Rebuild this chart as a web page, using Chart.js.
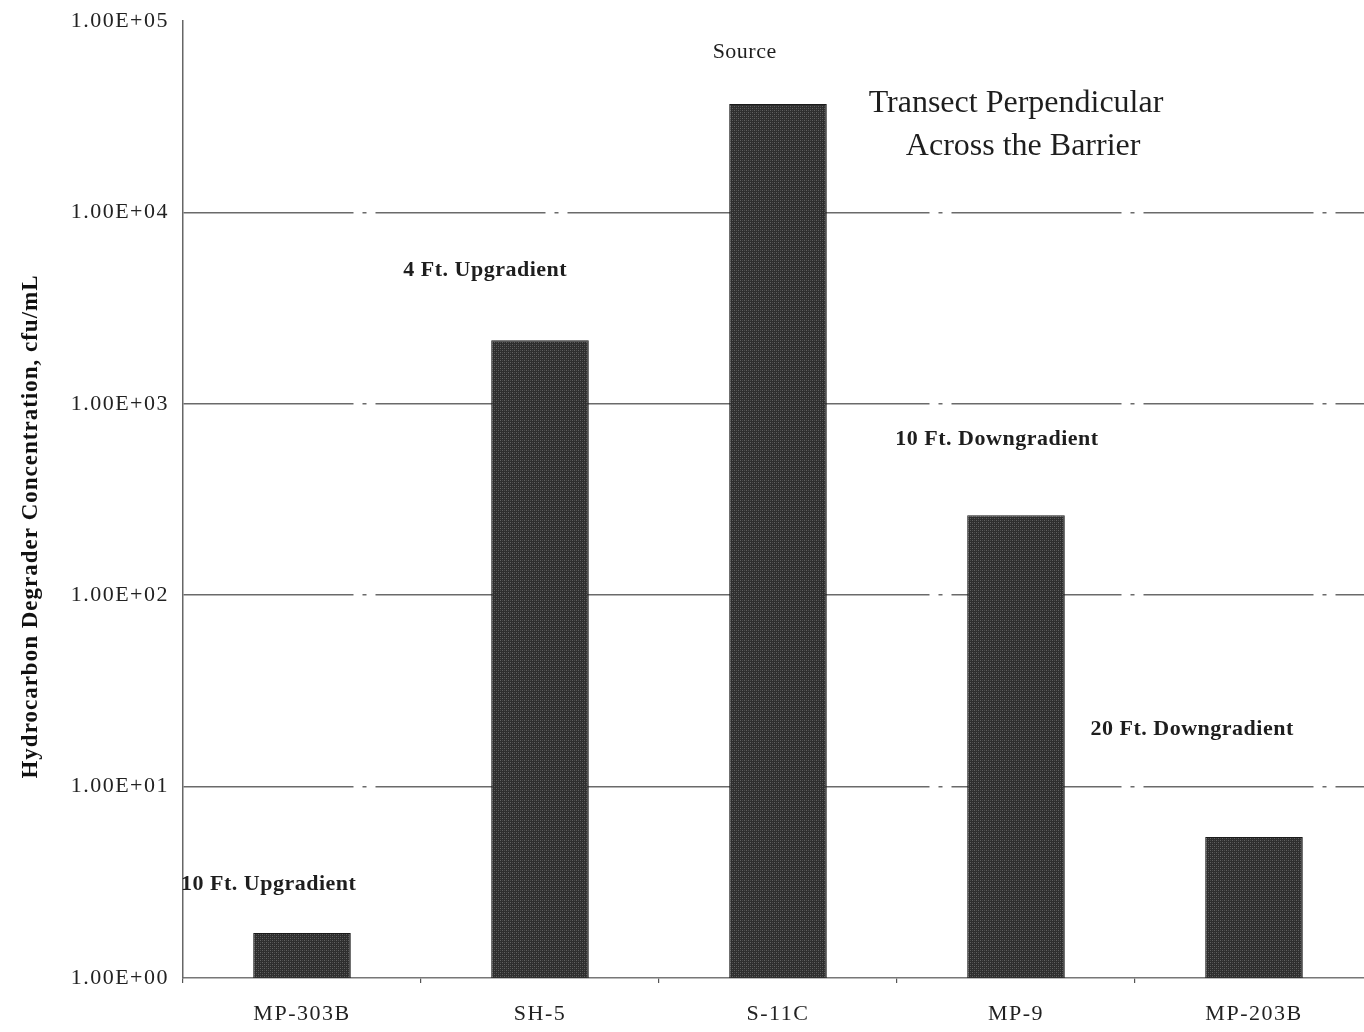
<!DOCTYPE html>
<html>
<head>
<meta charset="utf-8">
<script src="https://cdn.jsdelivr.net/npm/chart.js@4/dist/chart.umd.min.js"></script>
<style>
  html, body { margin: 0; padding: 0; background: #fff; overflow: hidden; }
  #wrap { width: 1376px; height: 1032px; }
</style>
</head>
<body>
<div id="wrap"><canvas id="c" width="1376" height="1032"></canvas></div>
<script>
// Sampling wells along the transect, upgradient to downgradient
const categories = ['MP-303B', 'SH-5', 'S-11C', 'MP-9', 'MP-203B'];
// Hydrocarbon degrader concentration, cfu/mL
const concentrations = [1.72, 2150, 36800, 262, 5.45];
// Decade ticks on the log axis and their printed labels
const tickValues = [1, 10, 100, 1000, 10000, 100000];
const tickLabels = ['1.00E+00', '1.00E+01', '1.00E+02', '1.00E+03', '1.00E+04', '1.00E+05'];
// Position notes: text, well index (+ fractional shift), concentration level, weight
const noteTexts = ['10 Ft. Upgradient', '4 Ft. Upgradient', 'Source', '10 Ft. Downgradient', '20 Ft. Downgradient'];
const noteIndex = [-0.14, 0.77, 1.86, 2.92, 3.74];
const noteLevel = [3.1, 5000, 69000, 650, 20];
const noteWeight = ['600', '600', 'normal', '600', '600'];
// Chart heading lines
const headingLines = ['Transect Perpendicular', 'Across the Barrier'];
const headingIndex = [3.0, 3.03];
const headingLevel = [37000, 22000];
const axisTitle = 'Hydrocarbon Degrader Concentration, cfu/mL';

const SERIF = '"Liberation Serif", "DejaVu Serif", serif';

// Halftone-like dark fill for the bars
function makeBarPattern() {
  const p = document.createElement('canvas');
  p.width = 4; p.height = 4;
  const g = p.getContext('2d');
  g.fillStyle = '#2e2e2e';
  g.fillRect(0, 0, 4, 4);
  g.fillStyle = '#626262';
  g.fillRect(0, 0, 1, 1);
  g.fillRect(2, 2, 1, 1);
  g.fillStyle = '#4a4a4a';
  g.fillRect(2, 0, 1, 1);
  g.fillRect(0, 2, 1, 1);
  return g.createPattern(p, 'repeat');
}

// Wider tracking for the axis text
const spacingPlugin = {
  id: 'spacing',
  beforeDraw(chart) { chart.ctx.letterSpacing = '1.5px'; }
};

const notesPlugin = {
  id: 'notes',
  afterDatasetsDraw(chart) {
    const { ctx, chartArea, scales: { x, y } } = chart;
    const step = x.getPixelForValue(1) - x.getPixelForValue(0);
    ctx.save();
    ctx.fillStyle = '#1e1e1e';
    ctx.textAlign = 'center';
    ctx.textBaseline = 'middle';
    ctx.letterSpacing = '0.5px';
    noteTexts.forEach((t, i) => {
      ctx.font = noteWeight[i] + ' 22px ' + SERIF;
      const px = x.getPixelForValue(0) + noteIndex[i] * step;
      ctx.fillText(t, px, y.getPixelForValue(noteLevel[i]));
    });
    ctx.font = '32px ' + SERIF;
    ctx.letterSpacing = '0px';
    headingLines.forEach((t, i) => {
      const px = x.getPixelForValue(0) + headingIndex[i] * step;
      ctx.fillText(t, px, y.getPixelForValue(headingLevel[i]));
    });
    // vertical axis title
    ctx.letterSpacing = '1px';
    ctx.font = 'bold 23px ' + SERIF;
    ctx.fillStyle = '#111';
    ctx.translate(31, (chartArea.top + chartArea.bottom) / 2 + 27);
    ctx.rotate(-Math.PI / 2);
    ctx.fillText(axisTitle, 0, 0);
    ctx.restore();
  }
};

new Chart(document.getElementById('c'), {
  type: 'bar',
  data: {
    labels: categories,
    datasets: [{
      data: concentrations,
      backgroundColor: makeBarPattern(),
      borderColor: '#1a1a1a',
      borderWidth: 1,
      borderSkipped: 'bottom',
      categoryPercentage: 1,
      barPercentage: 0.41
    }]
  },
  options: {
    responsive: false,
    animation: false,
    events: [],
    layout: { padding: { top: 21, right: 3, left: 0, bottom: 0 } },
    plugins: {
      legend: { display: false },
      tooltip: { enabled: false }
    },
    scales: {
      x: {
        afterFit(s) { s.height = 54; },
        grid: {
          drawOnChartArea: false,
          drawTicks: true,
          tickLength: 5,
          color: '#555',
          lineWidth: 1.2
        },
        border: { display: true, color: '#777', width: 1.5 },
        ticks: {
          color: '#222',
          font: { family: SERIF, size: 22 },
          padding: 18
        }
      },
      y: {
        type: 'logarithmic',
        min: 1,
        max: 100000,
        afterFit(s) { s.width = 183; s.paddingTop = 0; s.paddingBottom = 0; },
        afterBuildTicks(s) { s.ticks = tickValues.map(v => ({ value: v })); },
        grid: {
          drawTicks: false,
          color: ctx => (ctx.tick && (ctx.tick.value === 1 || ctx.tick.value === 100000)) ? 'rgba(0,0,0,0)' : '#6a6a6a',
          lineWidth: 1.6
        },
        border: { display: true, color: '#666', width: 1.5, dash: [170, 9, 4, 9] },
        ticks: {
          color: '#222',
          font: { family: SERIF, size: 22 },
          padding: 14,
          autoSkip: false,
          callback: (v) => {
            const i = tickValues.indexOf(v);
            return i >= 0 ? tickLabels[i] : '';
          }
        },
        title: { display: false }
      }
    }
  },
  plugins: [spacingPlugin, notesPlugin]
});
</script>
</body>
</html>
